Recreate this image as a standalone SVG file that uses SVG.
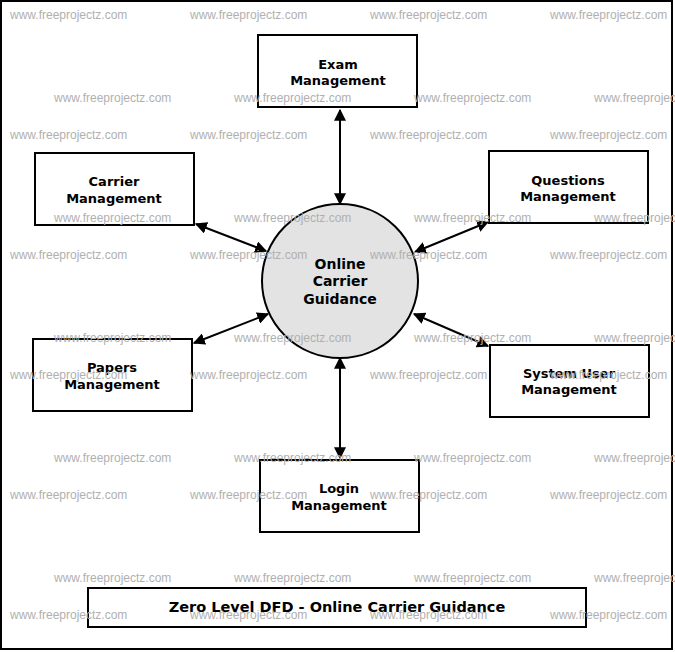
<svg xmlns="http://www.w3.org/2000/svg" width="675" height="652" viewBox="0 0 675 652">
<style>
.box{fill:#fff;stroke:#000;stroke-width:2}
.lbl{font-family:"DejaVu Sans",sans-serif;font-weight:bold;font-size:13px;text-anchor:middle;fill:#000}
.wm{font-family:"Liberation Sans",Arial,sans-serif;font-size:12px;fill:#b0b0b0}
.c{stroke:#000;stroke-width:2;fill:none;marker-start:url(#a);marker-end:url(#a)}
</style>
<defs><marker id="a" viewBox="0 0 10 10" refX="9" refY="5" markerWidth="6" markerHeight="6" orient="auto-start-reverse" markerUnits="strokeWidth"><path d="M0,0L10,5L0,10z" fill="#000"/></marker></defs>
<rect x="0" y="0" width="675" height="652" fill="#fff"/>
<rect x="1" y="1" width="671" height="648" fill="none" stroke="#000" stroke-width="2"/>
<g id="connectors">
<line class="c" x1="340" y1="110" x2="340" y2="204"/>
<line class="c" x1="196" y1="224" x2="266" y2="251"/>
<line class="c" x1="488" y1="222" x2="415" y2="252"/>
<line class="c" x1="194" y1="343" x2="268" y2="314"/>
<line class="c" x1="488" y1="346" x2="414" y2="314"/>
<line class="c" x1="340" y1="358" x2="340" y2="458"/>
</g>
<g id="center"><ellipse cx="340" cy="281" rx="78" ry="77" fill="#e3e3e3" stroke="#000" stroke-width="2"/><text class="lbl" x="340" y="269" style="font-size:14px">Online</text><text class="lbl" x="340" y="286" style="font-size:14px">Carrier</text><text class="lbl" x="340" y="304" style="font-size:14px">Guidance</text></g>
<g id="exam"><rect class="box" x="258" y="35" width="159" height="72"/><text class="lbl" x="338" y="69">Exam</text><text class="lbl" x="338" y="85">Management</text></g>
<g id="carrier"><rect class="box" x="35" y="153" width="159" height="72"/><text class="lbl" x="114" y="186">Carrier</text><text class="lbl" x="114" y="203">Management</text></g>
<g id="questions"><rect class="box" x="489" y="151" width="159" height="72"/><text class="lbl" x="568" y="185">Questions</text><text class="lbl" x="568" y="201">Management</text></g>
<g id="papers"><rect class="box" x="33" y="339" width="159" height="72"/><text class="lbl" x="112" y="372">Papers</text><text class="lbl" x="112" y="389">Management</text></g>
<g id="sysuser"><rect class="box" x="490" y="345" width="159" height="72"/><text class="lbl" x="569" y="378">System User</text><text class="lbl" x="569" y="394">Management</text></g>
<g id="login"><rect class="box" x="260" y="460" width="159" height="72"/><text class="lbl" x="339" y="493">Login</text><text class="lbl" x="339" y="510">Management</text></g>
<g id="title"><rect class="box" x="88" y="588" width="498" height="39"/><text class="lbl" x="337" y="612" style="font-size:14.5px">Zero Level DFD - Online Carrier Guidance</text></g>
<g id="watermarks" class="wm">
<text x="10" y="19">www.freeprojectz.com</text><text x="190" y="19">www.freeprojectz.com</text><text x="370" y="19">www.freeprojectz.com</text><text x="550" y="19">www.freeprojectz.com</text>
<text x="54" y="102">www.freeprojectz.com</text><text x="234" y="102">www.freeprojectz.com</text><text x="414" y="102">www.freeprojectz.com</text><text x="594" y="102">www.freeprojectz.com</text>
<text x="10" y="139">www.freeprojectz.com</text><text x="190" y="139">www.freeprojectz.com</text><text x="370" y="139">www.freeprojectz.com</text><text x="550" y="139">www.freeprojectz.com</text>
<text x="54" y="222">www.freeprojectz.com</text><text x="234" y="222">www.freeprojectz.com</text><text x="414" y="222">www.freeprojectz.com</text><text x="594" y="222">www.freeprojectz.com</text>
<text x="10" y="259">www.freeprojectz.com</text><text x="190" y="259">www.freeprojectz.com</text><text x="370" y="259">www.freeprojectz.com</text><text x="550" y="259">www.freeprojectz.com</text>
<text x="54" y="342">www.freeprojectz.com</text><text x="234" y="342">www.freeprojectz.com</text><text x="414" y="342">www.freeprojectz.com</text><text x="594" y="342">www.freeprojectz.com</text>
<text x="10" y="379">www.freeprojectz.com</text><text x="190" y="379">www.freeprojectz.com</text><text x="370" y="379">www.freeprojectz.com</text><text x="550" y="379">www.freeprojectz.com</text>
<text x="54" y="462">www.freeprojectz.com</text><text x="234" y="462">www.freeprojectz.com</text><text x="414" y="462">www.freeprojectz.com</text><text x="594" y="462">www.freeprojectz.com</text>
<text x="10" y="499">www.freeprojectz.com</text><text x="190" y="499">www.freeprojectz.com</text><text x="370" y="499">www.freeprojectz.com</text><text x="550" y="499">www.freeprojectz.com</text>
<text x="54" y="582">www.freeprojectz.com</text><text x="234" y="582">www.freeprojectz.com</text><text x="414" y="582">www.freeprojectz.com</text><text x="594" y="582">www.freeprojectz.com</text>
<text x="10" y="619">www.freeprojectz.com</text><text x="190" y="619">www.freeprojectz.com</text><text x="370" y="619">www.freeprojectz.com</text><text x="550" y="619">www.freeprojectz.com</text>
</g>
</svg>
